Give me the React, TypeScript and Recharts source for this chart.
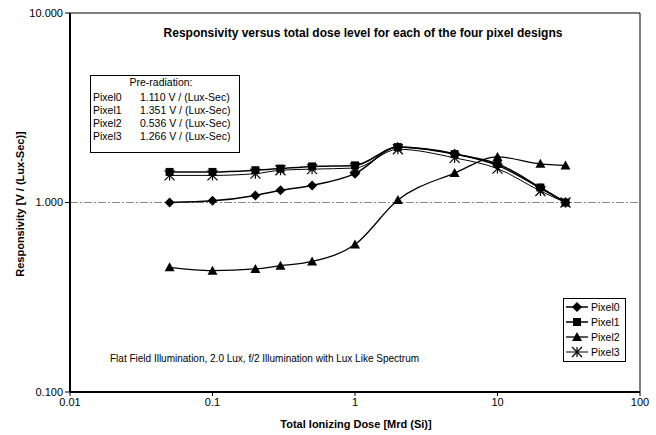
import React from 'react';
import { LineChart, Line, XAxis, YAxis, ReferenceLine } from 'recharts';

const doses = [0.05, 0.1, 0.2, 0.3, 0.5, 1, 2, 5, 10, 20, 30];
const pixel0 = [1.0, 1.02, 1.09, 1.16, 1.23, 1.42, 1.96, 1.81, 1.57, 1.19, 1.0];
const pixel1 = [1.45, 1.45, 1.48, 1.51, 1.55, 1.57, 1.96, 1.8, 1.6, 1.2, 1.0];
const pixel2 = [0.455, 0.437, 0.446, 0.464, 0.489, 0.6, 1.03, 1.43, 1.74, 1.6, 1.57];
const pixel3 = [1.39, 1.39, 1.42, 1.48, 1.5, 1.52, 1.91, 1.72, 1.51, 1.15, 1.0];

const xTicks = [0.01, 0.1, 1, 10, 100];
const yTicks = [0.1, 1, 10];

const preRadiation = [
  { name: 'Pixel0', value: '1.110 V / (Lux-Sec)' },
  { name: 'Pixel1', value: '1.351 V / (Lux-Sec)' },
  { name: 'Pixel2', value: '0.536 V / (Lux-Sec)' },
  { name: 'Pixel3', value: '1.266 V / (Lux-Sec)' },
];

const data = doses.map((d, i) => ({
  dose: d,
  Pixel0: pixel0[i],
  Pixel1: pixel1[i],
  Pixel2: pixel2[i],
  Pixel3: pixel3[i],
}));

const FONT = '"Liberation Sans", Arial, sans-serif';

type Shape = 'diamond' | 'square' | 'triangle' | 'cross';

function markerPath(shape: Shape, cx: number, cy: number) {
  switch (shape) {
    case 'diamond':
      return <path d={`M${cx} ${cy - 5}L${cx + 5} ${cy}L${cx} ${cy + 5}L${cx - 5} ${cy}Z`} fill="#000" />;
    case 'square':
      return <rect x={cx - 4} y={cy - 4} width={8} height={8} fill="#000" />;
    case 'triangle':
      return <path d={`M${cx} ${cy - 5}L${cx + 5} ${cy + 4}L${cx - 5} ${cy + 4}Z`} fill="#000" />;
    default:
      return (
        <g stroke="#000" strokeWidth={1.2}>
          <line x1={cx - 5} y1={cy - 5} x2={cx + 5} y2={cy + 5} />
          <line x1={cx - 5} y1={cy + 5} x2={cx + 5} y2={cy - 5} />
          <line x1={cx} y1={cy - 5} x2={cx} y2={cy + 5} />
        </g>
      );
  }
}

const makeDot = (shape: Shape) => (props: any) => {
  const { cx, cy, index } = props;
  if (cx == null || cy == null) return <g key={index} />;
  return <g key={index}>{markerPath(shape, cx, cy)}</g>;
};

const series: { key: string; shape: Shape; width: number }[] = [
  { key: 'Pixel0', shape: 'diamond', width: 1.5 },
  { key: 'Pixel1', shape: 'square', width: 1.5 },
  { key: 'Pixel2', shape: 'triangle', width: 1.3 },
  { key: 'Pixel3', shape: 'cross', width: 1 },
];

const fmtY = (v: number) => v.toFixed(3);
const fmtX = (v: number) => String(v);

export default function App() {
  return (
    <div style={{ position: 'absolute', left: 0, top: 0, width: 656, height: 435, background: '#fff', fontFamily: FONT }}>
      <LineChart width={656} height={435} data={data} margin={{ top: 13, right: 16, left: 0, bottom: 0 }}>
        <XAxis
          dataKey="dose"
          type="number"
          scale="log"
          domain={[0.01, 100]}
          ticks={xTicks}
          tickFormatter={fmtX}
          allowDataOverflow
          height={43}
          axisLine={{ stroke: '#000', strokeWidth: 2 }}
          tickLine={{ stroke: '#000' }}
          tickSize={4}
          tick={{ fontSize: 11, fill: '#000', fontFamily: FONT }}
        />
        <YAxis
          type="number"
          scale="log"
          domain={[0.1, 10]}
          ticks={yTicks}
          tickFormatter={fmtY}
          allowDataOverflow
          width={70}
          axisLine={{ stroke: '#000', strokeWidth: 2 }}
          tickLine={{ stroke: '#000' }}
          tickSize={5}
          tick={{ fontSize: 11, fill: '#000', fontFamily: FONT }}
        />
        <ReferenceLine y={1} stroke="#888" strokeDasharray="8 2 2 2" />
        <ReferenceLine y={10} stroke="#000" strokeWidth={1} />
        <ReferenceLine x={100} stroke="#000" strokeWidth={1} />
        {series.map(s => (
          <Line
            key={s.key}
            type="monotoneX"
            dataKey={s.key}
            stroke="#000"
            strokeWidth={s.width}
            dot={makeDot(s.shape)}
            activeDot={false}
            isAnimationActive={false}
          />
        ))}
      </LineChart>

      <svg width={656} height={435} style={{ position: 'absolute', left: 0, top: 0, pointerEvents: 'none' }} fontFamily={FONT}>
        <text x={363} y={37} textAnchor="middle" fontSize={12} fontWeight="bold">
          Responsivity versus total dose level for each of the four pixel designs
        </text>
        <text x={356} y={428} textAnchor="middle" fontSize={11} fontWeight="bold">
          Total Ionizing Dose [Mrd (Si)]
        </text>
        <text x={24} y={204} textAnchor="middle" fontSize={11} fontWeight="bold" transform="rotate(-90 24 204)">
          Responsivity [V / (Lux-Sec)]
        </text>
        <text x={110} y={362} fontSize={10}>
          Flat Field Illumination, 2.0 Lux, f/2 Illumination with Lux Like Spectrum
        </text>

        <rect x={90.5} y={75.5} width={149} height={77} fill="#fff" stroke="#000" />
        <text x={161} y={86} textAnchor="middle" fontSize={10.5}>Pre-radiation:</text>
        {preRadiation.map((p, i) => (
          <g key={p.name}>
            <text x={93} y={101 + i * 13} fontSize={10.5}>{p.name}</text>
            <text x={140} y={101 + i * 13} fontSize={10.5}>{p.value}</text>
          </g>
        ))}

        <rect x={563.5} y={298.5} width={62} height={63} fill="#fff" stroke="#000" />
        {series.map((s, i) => {
          const y = 307 + i * 15;
          return (
            <g key={s.key}>
              <line x1={566} x2={588} y1={y} y2={y} stroke="#000" strokeWidth={s.width} />
              {markerPath(s.shape, 577, y)}
              <text x={591} y={y + 4} fontSize={10.5}>{s.key}</text>
            </g>
          );
        })}
      </svg>
    </div>
  );
}
